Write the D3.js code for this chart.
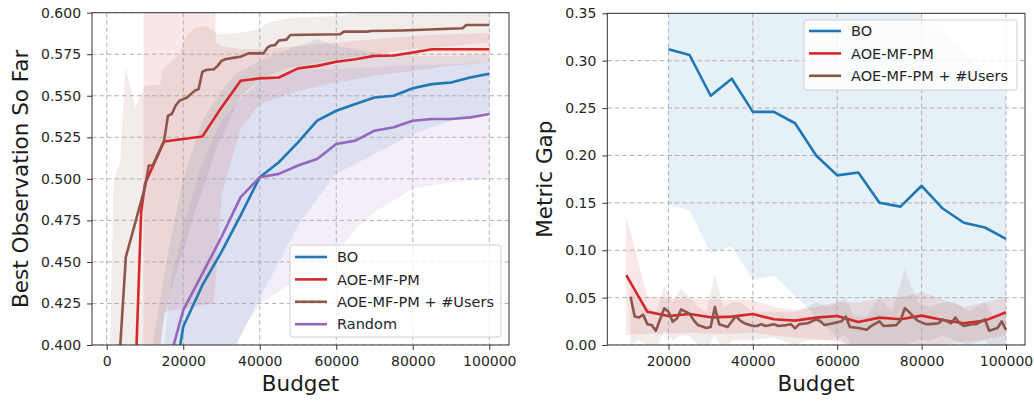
<!DOCTYPE html>
<html>
<head>
<meta charset="utf-8">
<script src="https://cdn.jsdelivr.net/npm/d3@7"></script>
<style>
body { margin: 0; background: #fff; }
svg text { font-family: "DejaVu Sans", sans-serif; }
</style>
</head>
<body>
<svg id="chart" width="1034" height="402"></svg>
<script>
"use strict";

// series
const seriesNames = ["BO", "AOE-MF-PM", "AOE-MF-PM + #Users", "Random"];
const seriesColors = ["#1f77b4", "#d62728", "#8c564b", "#9467bd"];

// left panel: best observation so far, [budget, value]
const leftBO = [[15000,0.34],[20000,0.411],[25000,0.436],[30000,0.456],[35000,0.478],[40000,0.501],[45000,0.510],[50000,0.522],[55000,0.535],[60000,0.541],[65000,0.545],[70000,0.549],[75000,0.550],[80000,0.5545],[85000,0.557],[90000,0.558],[95000,0.561],[100000,0.5632]];
const leftAOE = [[7500,0.38],[9000,0.48],[10000,0.497],[15000,0.5225],[20000,0.524],[25000,0.5255],[30000,0.543],[35000,0.559],[40000,0.5605],[45000,0.561],[50000,0.5665],[55000,0.568],[60000,0.5705],[65000,0.572],[70000,0.574],[75000,0.5742],[80000,0.576],[85000,0.578],[90000,0.578],[95000,0.578],[100000,0.578]];
const leftUsers = [[3000,0.38],[5000,0.453],[10000,0.495],[11000,0.508],[12000,0.508],[13000,0.513],[14000,0.518],[15000,0.523],[16000,0.538],[17000,0.539],[18000,0.544],[19000,0.547],[20000,0.548],[21000,0.549],[22000,0.551],[23000,0.553],[24000,0.554],[25000,0.5645],[26000,0.5655],[27000,0.5658],[28000,0.566],[29000,0.568],[30000,0.571],[31000,0.572],[33000,0.5728],[35000,0.5735],[36000,0.5745],[37000,0.5755],[41000,0.5755],[42000,0.579],[43000,0.5803],[44000,0.5805],[45000,0.5833],[47000,0.5838],[48000,0.5866],[61000,0.587],[62000,0.5886],[68000,0.5886],[69000,0.589],[77000,0.5893],[86000,0.590],[93000,0.5906],[94000,0.5926],[100000,0.5926]];
const leftRandom = [[15000,0.379],[20000,0.421],[25000,0.443],[30000,0.465],[35000,0.489],[40000,0.501],[45000,0.503],[50000,0.508],[55000,0.512],[60000,0.521],[65000,0.523],[70000,0.529],[75000,0.531],[80000,0.535],[85000,0.536],[90000,0.536],[95000,0.537],[100000,0.539]];

// left panel bands, [budget, low, high]
const leftBOBand = [[11000,0.25,0.38],[12000,0.27,0.40],[16000,0.30,0.455],[20000,0.33,0.50],[25000,0.36,0.535],[30000,0.38,0.553],[33600,0.40,0.563],[39300,0.425,0.570],[45000,0.45,0.576],[50000,0.472,0.580],[55000,0.488,0.584],[60000,0.503,0.580],[70000,0.515,0.576],[80000,0.527,0.574],[90000,0.535,0.574],[100000,0.541,0.575]];
const leftAOEBand = [[9600,0.30,0.65],[15000,0.42,0.65],[20000,0.422,0.65],[28000,0.425,0.65],[28500,0.44,0.582],[30000,0.49,0.580],[35000,0.53,0.578],[40000,0.545,0.578],[50000,0.553,0.580],[60000,0.558,0.582],[70000,0.562,0.584],[80000,0.565,0.586],[90000,0.568,0.587],[100000,0.570,0.588]];
const leftUsersBand = [[900,0.30,0.40],[1800,0.32,0.499],[3500,0.33,0.51],[4900,0.34,0.567],[7500,0.35,0.543],[10000,0.37,0.556],[14000,0.40,0.557],[14500,0.41,0.566],[16500,0.43,0.57],[19000,0.45,0.575],[20500,0.46,0.585],[23000,0.48,0.591],[26000,0.50,0.592],[29000,0.52,0.587],[35000,0.55,0.588],[40000,0.56,0.59],[42000,0.562,0.594],[48000,0.567,0.597],[60000,0.572,0.598],[70000,0.575,0.601],[80000,0.578,0.603],[90000,0.58,0.605],[100000,0.582,0.606]];
const leftRandomBand = [[15000,0.30,0.40],[17000,0.32,0.44],[20000,0.34,0.47],[25000,0.36,0.51],[30000,0.38,0.535],[36000,0.41,0.55],[40000,0.425,0.558],[45000,0.432,0.562],[50000,0.44,0.565],[55000,0.445,0.566],[60000,0.455,0.566],[65000,0.47,0.567],[70000,0.48,0.567],[75000,0.487,0.568],[80000,0.494,0.568],[90000,0.498,0.569],[100000,0.50,0.57]];

// right panel: metric gap, [budget, value]
const rightBO = [[20000,0.312],[25000,0.306],[30000,0.263],[35000,0.281],[40000,0.246],[45000,0.246],[50000,0.234],[55000,0.200],[60000,0.179],[65000,0.182],[70000,0.150],[75000,0.146],[80000,0.168],[85000,0.144],[90000,0.129],[95000,0.124],[100000,0.112]];
const rightAOE = [[10000,0.0738],[15000,0.035],[20000,0.0306],[25000,0.0327],[30000,0.0292],[35000,0.0299],[40000,0.0327],[45000,0.0271],[50000,0.0257],[55000,0.0289],[60000,0.0306],[65000,0.0243],[70000,0.0289],[75000,0.0271],[80000,0.031],[85000,0.0264],[90000,0.0229],[95000,0.0257],[100000,0.0345]];
const rightUsers = [[11000,0.051],[12000,0.030],[13000,0.029],[14000,0.032],[15000,0.022],[16000,0.021],[17000,0.015],[19000,0.0387],[20000,0.035],[21000,0.0246],[22000,0.028],[23000,0.0376],[25000,0.033],[26000,0.026],[27000,0.021],[29000,0.018],[30000,0.019],[31000,0.040],[32000,0.022],[34000,0.019],[36000,0.0306],[37000,0.0257],[38000,0.023],[40000,0.020],[41000,0.020],[42000,0.022],[43000,0.020],[45000,0.022],[46000,0.020],[48000,0.021],[49000,0.022],[50000,0.0176],[51000,0.022],[53000,0.023],[55000,0.027],[56000,0.025],[57000,0.021],[59000,0.023],[61000,0.025],[62000,0.030],[63000,0.019],[65000,0.018],[67000,0.016],[68000,0.020],[70000,0.025],[71000,0.020],[74000,0.021],[75000,0.026],[76000,0.0387],[77000,0.035],[79000,0.0257],[81000,0.022],[82000,0.022],[84000,0.023],[85000,0.027],[87000,0.023],[88000,0.029],[89000,0.023],[90000,0.020],[92000,0.022],[93000,0.022],[95000,0.027],[96000,0.015],[98000,0.018],[99000,0.025],[100000,0.016]];

// right panel bands, [budget, low, high]
const rightBOBand = [[20000,0.148,0.40],[25000,0.142,0.40],[30000,0.097,0.40],[35000,0.104,0.40],[40000,0.069,0.40],[45000,0.073,0.40],[50000,0.052,0.40],[55000,0.03,0.40],[60000,0.008,0.346],[65000,-0.01,0.40],[70000,-0.02,0.40],[75000,-0.02,0.40],[80000,-0.02,0.345],[85000,-0.02,0.33],[90000,-0.02,0.31],[95000,-0.02,0.29],[100000,-0.02,0.265]];
const rightAOEBand = [[10000,0.0105,0.135],[15000,0.012,0.051],[20000,0.012,0.049],[25000,0.013,0.049],[30000,0.012,0.048],[35000,0.012,0.048],[40000,0.013,0.0475],[45000,0.01,0.04],[50000,0.008,0.037],[55000,0.006,0.04],[60000,0.004,0.045],[65000,-0.005,0.045],[70000,-0.01,0.049],[75000,-0.008,0.05],[80000,-0.005,0.056],[85000,0.0,0.048],[90000,0.003,0.04],[95000,0.006,0.045],[100000,0.01,0.051]];
const rightUsersBand = [[11000,0.0,0.06],[13000,0.005,0.05],[15000,0.0,0.04],[17000,-0.005,0.035],[19000,0.015,0.062],[21000,0.005,0.045],[23000,0.01,0.06],[25000,0.01,0.05],[27000,0.0,0.04],[29000,-0.005,0.035],[31000,0.01,0.075],[33000,-0.005,0.04],[35000,0.005,0.045],[37000,0.005,0.045],[40000,0.005,0.035],[45000,0.008,0.035],[50000,0.0,0.035],[53000,0.005,0.04],[55000,0.005,0.045],[58000,0.005,0.04],[62000,0.01,0.05],[64000,-0.005,0.03],[67000,-0.005,0.03],[70000,0.0,0.05],[73000,0.0,0.035],[76000,0.0,0.08],[79000,0.005,0.045],[82000,0.005,0.04],[85000,0.01,0.045],[88000,0.005,0.045],[91000,0.0,0.035],[95000,0.005,0.045],[97000,-0.005,0.03],[100000,0.0,0.035]];

// ticks
const leftXTicks = [0, 20000, 40000, 60000, 80000, 100000];
const leftYTicks = [0.400, 0.425, 0.450, 0.475, 0.500, 0.525, 0.550, 0.575, 0.600];
const rightXTicks = [20000, 40000, 60000, 80000, 100000];
const rightYTicks = [0.00, 0.05, 0.10, 0.15, 0.20, 0.25, 0.30, 0.35];


const svg = d3.select("#chart");

function drawPanel(p) {

    // scales
    const x = d3.scaleLinear().domain(p.xDomain).range([p.left, p.right]);
    const y = d3.scaleLinear().domain(p.yDomain).range([p.bottom, p.top]);

    // clip
    svg.append("clipPath").attr("id", p.id)
    .append("rect")
    .attr("x", p.left).attr("y", p.top)
    .attr("width", p.right - p.left).attr("height", p.bottom - p.top);
    const plot = svg.append("g").attr("clip-path", `url(#${p.id})`);

    // bands
    const area = d3.area()
    .x(d => x(d[0]))
    .y0(d => y(d[1]))
    .y1(d => y(d[2]));
    p.series.forEach(s => {
        plot.append("path")
        .datum(s.band)
        .attr("d", area)
        .attr("fill", seriesColors[s.idx])
        .attr("fill-opacity", 0.11);
    });

    // grid
    const grid = plot.append("g")
    .attr("stroke", "#a8a8a8")
    .attr("stroke-width", 0.9)
    .attr("stroke-dasharray", "4.5,3");
    p.xTicks.forEach(t => {
        grid.append("line").attr("x1", x(t)).attr("x2", x(t)).attr("y1", p.top).attr("y2", p.bottom);
    });
    p.yTicks.forEach(t => {
        grid.append("line").attr("x1", p.left).attr("x2", p.right).attr("y1", y(t)).attr("y2", y(t));
    });

    // lines
    const line = d3.line().x(d => x(d[0])).y(d => y(d[1]));
    p.series.forEach(s => {
        plot.append("path")
        .datum(s.line)
        .attr("d", line)
        .attr("fill", "none")
        .attr("stroke", seriesColors[s.idx])
        .attr("stroke-width", 2.6)
        .attr("stroke-linejoin", "round");
    });

    // frame
    svg.append("rect")
    .attr("x", p.left).attr("y", p.top)
    .attr("width", p.right - p.left).attr("height", p.bottom - p.top)
    .attr("fill", "none").attr("stroke", "#333").attr("stroke-width", 1);

    // x axis
    const xAxis = svg.append("g")
    .attr("transform", `translate(0, ${p.bottom})`)
    .call(d3.axisBottom(x).tickValues(p.xTicks).tickFormat(d3.format("d")).tickSize(4.9).tickPadding(6.5).tickSizeOuter(0));
    // y axis
    const yAxis = svg.append("g")
    .attr("transform", `translate(${p.left}, 0)`)
    .call(d3.axisLeft(y).tickValues(p.yTicks).tickFormat(d3.format(p.yFormat)).tickSize(4.9).tickPadding(6).tickSizeOuter(0));
    [xAxis, yAxis].forEach(a => {
        a.select(".domain").remove();
        a.selectAll("line").attr("stroke", "#333");
        a.selectAll("text").attr("font-size", 14).attr("fill", "#262626").attr("font-family", "DejaVu Sans");
    });

    // axis labels
    svg.append("text")
    .attr("x", (p.left + p.right) / 2).attr("y", 391)
    .attr("text-anchor", "middle").attr("font-size", 21.5).attr("fill", "#1a1a1a")
    .text("Budget");
    svg.append("text")
    .attr("transform", `translate(${p.yLabelX}, ${(p.top + p.bottom) / 2}) rotate(-90)`)
    .attr("text-anchor", "middle").attr("font-size", 21.5).attr("fill", "#1a1a1a")
    .text(p.yLabel);

    // legend
    const lg = svg.append("g").attr("transform", `translate(${p.legend.x}, ${p.legend.y})`);
    lg.append("rect")
    .attr("width", p.legend.w).attr("height", p.legend.h)
    .attr("rx", 3)
    .attr("fill", "#fff").attr("fill-opacity", 0.8)
    .attr("stroke", "#d0d0d0").attr("stroke-width", 1);
    p.series.forEach((s, i) => {
        const cy = p.legend.first + i * 22.4;
        lg.append("line")
        .attr("x1", 5).attr("x2", 37).attr("y1", cy).attr("y2", cy)
        .attr("stroke", seriesColors[s.idx]).attr("stroke-width", 2.6);
        lg.append("text")
        .attr("x", 47).attr("y", cy).attr("dy", "0.36em")
        .attr("font-size", 14.5).attr("fill", "#262626")
        .text(seriesNames[s.idx]);
    });
}


// left panel
drawPanel({
    id: "clipLeft",
    left: 92, right: 509, top: 12.7, bottom: 345,
    xDomain: [-3850, 105150], yDomain: [0.4, 0.6],
    xTicks: leftXTicks, yTicks: leftYTicks, yFormat: ".3f",
    yLabel: "Best Observation So Far", yLabelX: 28,
    legend: {x: 290, y: 245, w: 211, h: 92, first: 12},
    series: [
        {idx: 0, line: leftBO, band: leftBOBand},
        {idx: 1, line: leftAOE, band: leftAOEBand},
        {idx: 2, line: leftUsers, band: leftUsersBand},
        {idx: 3, line: leftRandom, band: leftRandomBand}
    ]
});

// right panel
drawPanel({
    id: "clipRight",
    left: 607.3, right: 1025, top: 13.3, bottom: 345,
    xDomain: [5500, 104500], yDomain: [0, 0.35],
    xTicks: rightXTicks, yTicks: rightYTicks, yFormat: ".2f",
    yLabel: "Metric Gap", yLabelX: 552,
    legend: {x: 804, y: 20, w: 213, h: 70, first: 11},
    series: [
        {idx: 0, line: rightBO, band: rightBOBand},
        {idx: 1, line: rightAOE, band: rightAOEBand},
        {idx: 2, line: rightUsers, band: rightUsersBand}
    ]
});
</script>
</body>
</html>
